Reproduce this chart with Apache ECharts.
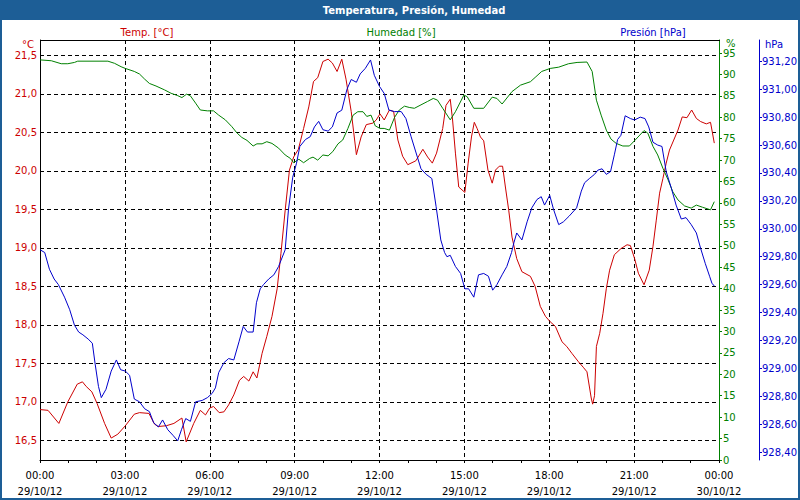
<!DOCTYPE html>
<html><head><meta charset="utf-8">
<script src="https://cdn.jsdelivr.net/npm/echarts@6/dist/echarts.min.js"></script>
<style>html,body{margin:0;padding:0;background:#fff}#c{width:800px;height:500px}</style>
</head><body><div id="c"></div>
<script>
// Minutes since 29/10/12 00:00
const tempTimes = [0,17,40,59,79,90,98,110,121,137,151,165,181,200,211,231,243,251,268,284,301,310,326,340,351,360,368,380,390,400,411,423,432,443,452,460,471,481,492,503,511,520,529,538,548,559,570,580,589,600,611,620,630,640,649,660,671,681,692,706,713,721,730,741,750,759,769,780,797,812,822,832,841,854,861,870,875,881,888,901,908,915,921,927,934,941,950,959,966,974,981,987,994,1001,1011,1022,1040,1050,1061,1072,1082,1093,1107,1117,1128,1142,1152,1160,1169,1172,1176,1180,1187,1194,1201,1208,1218,1232,1245,1252,1261,1269,1281,1292,1300,1307,1314,1321,1328,1335,1344,1353,1362,1372,1382,1392,1401,1413,1422,1425,1430];
const tempValues = [16.90,16.89,16.72,17.00,17.23,17.26,17.20,17.13,16.98,16.72,16.53,16.58,16.69,16.84,16.86,16.85,16.71,16.68,16.69,16.72,16.79,16.48,16.72,16.89,16.83,16.92,16.94,16.86,16.87,16.96,17.09,17.28,17.33,17.27,17.39,17.31,17.63,17.85,18.11,18.47,18.93,19.49,20.01,20.18,20.28,20.55,20.83,21.16,21.21,21.42,21.45,21.40,21.29,21.45,21.19,20.77,20.21,20.44,20.60,20.62,20.66,20.74,20.66,20.79,20.77,20.40,20.19,20.08,20.13,20.28,20.18,20.10,20.23,20.55,20.85,20.93,20.66,20.23,19.79,19.72,20.10,20.44,20.63,20.55,20.44,20.39,20.01,19.84,20.01,20.06,20.06,19.79,19.49,19.14,18.86,18.69,18.63,18.50,18.24,18.11,18.04,17.98,17.78,17.72,17.63,17.52,17.45,17.39,17.05,16.97,17.08,17.72,17.89,18.15,18.47,18.71,18.91,18.99,19.04,19.03,18.86,18.67,18.52,18.71,19.02,19.36,19.71,19.90,20.10,20.27,20.40,20.53,20.70,20.69,20.79,20.68,20.64,20.61,20.63,20.53,20.36];

const humTimes = [0,24,45,59,73,80,144,158,172,181,200,211,222,232,246,264,278,291,301,311,319,330,340,355,368,379,393,407,418,428,439,452,460,471,481,492,506,520,531,538,549,559,572,579,589,600,611,621,632,642,653,664,674,685,693,702,711,721,730,741,752,762,773,783,794,808,822,834,843,854,870,881,899,906,920,941,959,969,980,1001,1019,1040,1050,1064,1082,1100,1121,1139,1160,1171,1180,1190,1201,1211,1222,1236,1250,1264,1281,1289,1300,1310,1321,1332,1342,1353,1367,1381,1392,1405,1422,1430];
const humValues = [93.4,93.2,92.5,92.5,92.8,93.1,93.1,92.6,91.8,91.4,90.7,90.1,88.9,87.9,87.3,86.4,85.6,85.1,84.6,85.4,85.0,83.3,81.7,81.5,81.5,80.5,79.4,77.8,76.3,75.3,74.6,73.3,73.8,73.8,74.3,73.9,72.8,71.2,70.4,69.4,70.2,69.4,70.4,70.7,70.0,71.2,71.0,72.0,73.8,74.7,77.4,80.5,81.3,81.3,80.2,80.5,78.0,77.4,77.4,77.0,80.0,81.7,82.6,82.3,82.1,82.9,83.7,84.4,84.0,82.1,79.4,81.3,85.2,84.8,82.1,82.1,84.7,84.4,83.1,86.0,87.5,88.3,89.3,90.7,91.4,91.7,92.5,92.8,92.9,90.7,84.0,80.5,77.0,74.9,73.9,73.3,73.3,74.9,76.9,76.3,73.2,71.2,68.1,65.4,62.6,60.7,59.3,58.8,59.5,59.0,58.4,60.3];

const presTimes = [0,10,20,30,39,52,63,73,82,91,102,111,117,124,130,140,151,162,171,181,190,200,211,222,232,241,251,260,271,282,292,300,309,319,330,344,355,365,372,379,390,400,411,422,431,440,452,459,467,474,485,496,506,520,527,536,544,551,563,573,582,591,600,611,620,630,640,651,660,671,679,690,701,709,720,730,740,752,766,776,787,797,808,819,831,840,850,858,863,870,881,892,901,909,920,930,941,951,960,969,980,990,1000,1005,1011,1022,1033,1043,1054,1063,1070,1081,1089,1100,1110,1122,1138,1148,1155,1165,1176,1183,1192,1201,1210,1218,1225,1232,1241,1252,1261,1273,1283,1291,1300,1310,1319,1328,1339,1349,1360,1370,1381,1392,1401,1411,1420,1425,1430];
const presValues = [929.85,929.83,929.71,929.64,929.60,929.51,929.42,929.31,929.26,929.24,929.21,929.18,929.03,928.87,928.79,928.85,928.98,929.06,928.99,928.98,928.95,928.78,928.76,928.71,928.69,928.61,928.58,928.63,928.56,928.52,928.48,928.56,928.64,928.62,928.76,928.77,928.79,928.82,928.86,928.97,929.04,929.07,929.06,929.19,929.30,929.26,929.26,929.47,929.57,929.60,929.64,929.67,929.73,929.85,930.14,930.37,930.47,930.59,930.64,930.66,930.73,930.77,930.71,930.70,930.73,930.83,930.85,931.00,931.07,931.05,931.11,931.15,931.21,931.10,931.02,930.97,930.85,930.84,930.84,930.79,930.66,930.55,930.43,930.39,930.36,930.16,929.92,929.83,929.80,929.81,929.73,929.68,929.57,929.57,929.51,929.67,929.68,929.66,929.56,929.60,929.67,929.73,929.83,929.90,929.97,929.92,930.05,930.15,930.21,930.23,930.17,930.24,930.14,930.03,930.05,930.09,930.15,930.27,930.33,930.36,930.39,930.42,930.43,930.39,930.41,930.53,930.64,930.67,930.81,930.79,930.78,930.80,930.79,930.73,930.62,930.60,930.59,930.41,930.29,930.17,930.07,930.08,930.03,929.97,929.86,929.75,929.66,929.61,929.59];

const xTickLabels = ['00:00\n29/10/12','03:00\n29/10/12','06:00\n29/10/12','09:00\n29/10/12','12:00\n29/10/12','15:00\n29/10/12','18:00\n29/10/12','21:00\n29/10/12','00:00\n30/10/12'];
const tempTicks = [16.5,17.0,17.5,18.0,18.5,19.0,19.5,20.0,20.5,21.0,21.5];
const humTicks = [0,5,10,15,20,25,30,35,40,45,50,55,60,65,70,75,80,85,90,95];
const presTicks = [928.4,928.6,928.8,929.0,929.2,929.4,929.6,929.8,930.0,930.2,930.4,930.6,930.8,931.0,931.2];

const RED = '#cc0000', GREEN = '#008000', BLUE = '#0000cc', FRAME = '#1d5e96';
const FONT = 'DejaVu Sans';
const DASH = [4, 3];
const comma = (v, d) => v.toFixed(d).replace('.', ',');
const pairs = (t, v) => t.map((m, i) => [m, v[i]]);

const chart = echarts.init(document.getElementById('c'), null, {renderer: 'svg'});
chart.setOption({
  animation: false,
  backgroundColor: '#ffffff',
  grid: {left: 40, right: 80, top: 40, bottom: 40, containLabel: false},
  xAxis: {
    type: 'value', min: 0, max: 1440, interval: 180,
    axisLine: {lineStyle: {color: '#000', width: 1}},
    axisTick: {show: true, length: 3, lineStyle: {color: '#000'}},
    minorTick: {show: true, splitNumber: 3, length: 3, lineStyle: {color: '#000'}},
    axisLabel: {color: '#000', fontFamily: FONT, fontSize: 10, lineHeight: 16, margin: 7,
      formatter: v => xTickLabels[Math.round(v / 180)]},
    splitLine: {show: true, showMinLine: false, showMaxLine: false, lineStyle: {color: '#000', type: DASH, width: 1}}
  },
  yAxis: [
    {
      type: 'value', position: 'left', min: 16.245, max: 21.699,
      axisLine: {show: true, lineStyle: {color: '#000', width: 1}},
      axisTick: {show: false, customValues: tempTicks},
      axisLabel: {customValues: tempTicks, color: RED, fontFamily: FONT, fontSize: 10, margin: 3,
        padding: [4, 0, 0, 0], formatter: v => comma(v, 1)},
      splitLine: {show: true, lineStyle: {color: '#000', type: DASH, width: 1}}
    },
    {
      type: 'value', position: 'right', min: 0, max: 98.04,
      axisLine: {show: true, lineStyle: {color: GREEN, width: 1}},
      axisTick: {show: true, length: 3, customValues: humTicks, lineStyle: {color: GREEN}},
      axisLabel: {customValues: humTicks, color: GREEN, fontFamily: FONT, fontSize: 10, margin: 4,
        padding: [5, 0, 0, 0], formatter: v => String(v)},
      splitLine: {show: false}
    },
    {
      type: 'value', position: 'right', offset: 40, min: 928.343, max: 931.353,
      axisLine: {show: true, lineStyle: {color: BLUE, width: 1}},
      axisTick: {show: true, length: 3, customValues: presTicks, lineStyle: {color: BLUE}},
      axisLabel: {customValues: presTicks, color: BLUE, fontFamily: FONT, fontSize: 10, margin: 3,
        padding: [4, 0, 0, 0], formatter: v => comma(v, 2)},
      splitLine: {show: false}
    }
  ],
  series: [
    {name: 'Temp. [°C]', type: 'line', yAxisIndex: 0, showSymbol: false, data: pairs(tempTimes, tempValues),
      lineStyle: {color: RED, width: 1}, itemStyle: {color: RED}},
    {name: 'Humedad [%]', type: 'line', yAxisIndex: 1, showSymbol: false, data: pairs(humTimes, humValues),
      lineStyle: {color: GREEN, width: 1}, itemStyle: {color: GREEN}},
    {name: 'Presión [hPa]', type: 'line', yAxisIndex: 2, showSymbol: false, data: pairs(presTimes, presValues),
      lineStyle: {color: BLUE, width: 1}, itemStyle: {color: BLUE}}
  ],
  graphic: [
    {type: 'rect', silent: true, z: 100, shape: {x: 1, y: 1, width: 798, height: 498},
      style: {fill: 'none', stroke: FRAME, lineWidth: 2}},
    {type: 'rect', silent: true, z: 100, shape: {x: 0, y: 0, width: 800, height: 20}, style: {fill: FRAME}},
    {type: 'text', silent: true, z: 101, x: 414, y: 10,
      style: {text: 'Temperatura, Presión, Humedad', fill: '#fff', font: 'bold 10px "DejaVu Sans"', textAlign: 'center', textVerticalAlign: 'middle'}},
    {type: 'text', silent: true, z: 101, x: 147, y: 32,
      style: {text: 'Temp. [°C]', fill: RED, font: '10px "DejaVu Sans"', textAlign: 'center', textVerticalAlign: 'middle'}},
    {type: 'text', silent: true, z: 101, x: 401, y: 32,
      style: {text: 'Humedad [%]', fill: GREEN, font: '10px "DejaVu Sans"', textAlign: 'center', textVerticalAlign: 'middle'}},
    {type: 'text', silent: true, z: 101, x: 653, y: 32,
      style: {text: 'Presión [hPa]', fill: BLUE, font: '10px "DejaVu Sans"', textAlign: 'center', textVerticalAlign: 'middle'}},
    {type: 'text', silent: true, z: 101, x: 34, y: 44,
      style: {text: '°C', fill: RED, font: '10px "DejaVu Sans"', textAlign: 'right', textVerticalAlign: 'middle'}},
    {type: 'text', silent: true, z: 101, x: 726, y: 43,
      style: {text: '%', fill: GREEN, font: '10px "DejaVu Sans"', textAlign: 'left', textVerticalAlign: 'middle'}},
    {type: 'text', silent: true, z: 101, x: 765, y: 44,
      style: {text: 'hPa', fill: BLUE, font: '10px "DejaVu Sans"', textAlign: 'left', textVerticalAlign: 'middle'}},
    {type: 'line', silent: true, z: 100, shape: {x1: 40, y1: 40.5, x2: 720, y2: 40.5},
      style: {stroke: '#000', lineWidth: 1}}
  ]
});
</script></body></html>
